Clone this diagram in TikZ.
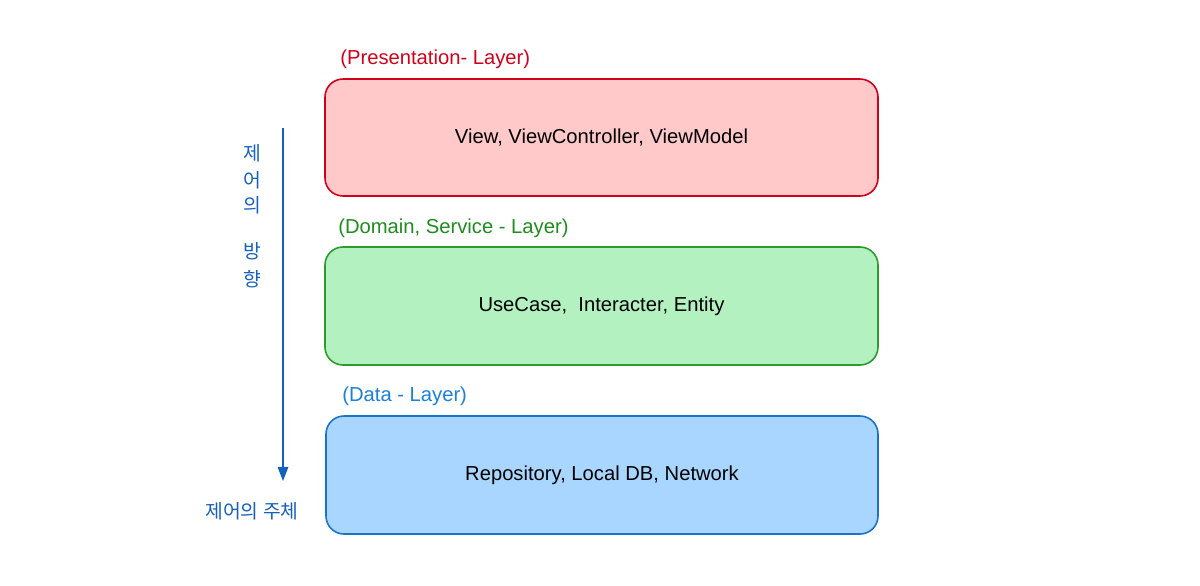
\documentclass[tikz,border=0pt]{standalone}
\usepackage{fontspec}
\setmainfont{Liberation Sans}
\newfontfamily\kr{Noto Sans CJK KR}
\usetikzlibrary{arrows.meta}
\definecolor{rb}{HTML}{D0021B}\definecolor{rf}{HTML}{FFC9C9}
\definecolor{gb}{HTML}{2E9A2E}\definecolor{gf}{HTML}{B3F2C0}
\definecolor{bb}{HTML}{1A73C8}\definecolor{bf}{HTML}{A8D6FF}
\definecolor{gl}{HTML}{1E8C1E}\definecolor{bl}{HTML}{1A80D8}
\definecolor{ar}{HTML}{1560BD}
\begin{document}
\begin{tikzpicture}[x=0.02cm,y=-0.02cm,
 box/.style={draw=#1,line width=0.9pt,rounded corners=0.36cm,inner sep=0},
 t/.style={font=\fontsize{11.5}{14}\selectfont},
 lab/.style={t,anchor=west,inner sep=0},
 kt/.style={font=\fontsize{11}{13}\kr\selectfont,text=ar,inner sep=0}]
\useasboundingbox (0,0) rectangle (1200,585);
\filldraw[box=rb,fill=rf] (325,79) rectangle (878,196);
\filldraw[box=gb,fill=gf] (325,247) rectangle (878,365);
\filldraw[box=bb,fill=bf] (326,416) rectangle (878,534);
\node[t] (p) at (601.5,137.5) {View, ViewController, ViewModel};
\node[t] (d) at (601.5,306) {UseCase,\ \ Interacter, Entity};
\node[t] (n) at (602,475) {Repository, Local DB, Network};
\node[lab,text=rb] (pl) at (340,59) {(Presentation- Layer)};
\node[lab,text=gl] (dl) at (338,228) {(Domain, Service - Layer)};
\node[lab,text=bl] (nl) at (342,396) {(Data - Layer)};
\coordinate (a1) at (283,128); \coordinate (a2) at (283,481);
\draw[ar,line width=0.9pt,-{Triangle[length=8pt,width=6pt]}] (a1) -- (a2);
\node[kt] (k1) at (252,153) {제};
\node[kt] (k2) at (252,180) {어};
\node[kt] (k3) at (252,205) {의};
\node[kt] (k4) at (252,251) {방};
\node[kt] (k5) at (252,279) {향};
\node[kt] (k6) at (252,511) {제어의 주체};
\end{tikzpicture}
\end{document}
